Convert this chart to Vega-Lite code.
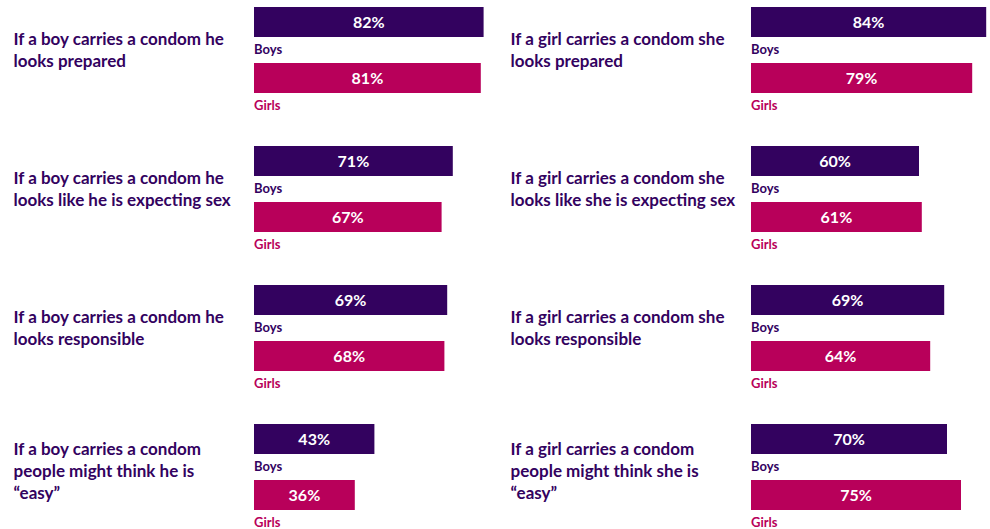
{
  "$schema": "https://vega.github.io/schema/vega-lite/v6.json",
  "padding": {"left": 13, "top": 7, "right": 0, "bottom": 0},
  "background": "white",
  "datasets": {
    "left": [
      {"statement": "If a boy carries a condom he|looks prepared", "gender": "Boys", "value": 82},
      {"statement": "If a boy carries a condom he|looks prepared", "gender": "Girls", "value": 81},
      {"statement": "If a boy carries a condom he|looks like he is expecting sex", "gender": "Boys", "value": 71},
      {"statement": "If a boy carries a condom he|looks like he is expecting sex", "gender": "Girls", "value": 67},
      {"statement": "If a boy carries a condom he|looks responsible", "gender": "Boys", "value": 69},
      {"statement": "If a boy carries a condom he|looks responsible", "gender": "Girls", "value": 68},
      {"statement": "If a boy carries a condom|people might think he is|“easy”", "gender": "Boys", "value": 43},
      {"statement": "If a boy carries a condom|people might think he is|“easy”", "gender": "Girls", "value": 36}
    ],
    "right": [
      {"statement": "If a girl carries a condom she|looks prepared", "gender": "Boys", "value": 84},
      {"statement": "If a girl carries a condom she|looks prepared", "gender": "Girls", "value": 79},
      {"statement": "If a girl carries a condom she|looks like she is expecting sex", "gender": "Boys", "value": 60},
      {"statement": "If a girl carries a condom she|looks like she is expecting sex", "gender": "Girls", "value": 61},
      {"statement": "If a girl carries a condom she|looks responsible", "gender": "Boys", "value": 69},
      {"statement": "If a girl carries a condom she|looks responsible", "gender": "Girls", "value": 64},
      {"statement": "If a girl carries a condom|people might think she is|“easy”", "gender": "Boys", "value": 70},
      {"statement": "If a girl carries a condom|people might think she is|“easy”", "gender": "Girls", "value": 75}
    ]
  },
  "spacing": 18,
  "hconcat": [
    {
      "data": {"name": "left"},
      "width": 238,
      "height": 503,
      "encoding": {
        "y": {"field": "statement", "type": "nominal", "sort": null, "title": null, "scale": {"type": "band", "paddingInner": 0.3813, "paddingOuter": 0}},
        "yOffset": {"field": "gender", "type": "nominal", "sort": ["Boys", "Girls"], "scale": {"type": "band", "paddingInner": 0.4643, "paddingOuter": 0}}
      },
      "layer": [
        {
          "mark": {"type": "bar"},
          "encoding": {
            "x": {"field": "value", "type": "quantitative", "scale": {"domain": [0, 85], "nice": false}, "axis": null},
            "color": {"field": "gender", "type": "nominal", "scale": {"domain": ["Boys", "Girls"], "range": ["#33025F", "#B8005A"]}, "legend": null}
          }
        },
        {
          "mark": {"type": "text", "align": "left", "baseline": "middle", "dy": 28, "font": "Lato", "fontWeight": "bold", "fontSize": 13},
          "encoding": {
            "x": {"datum": 0, "type": "quantitative", "scale": {"domain": [0, 85], "nice": false}, "axis": null},
            "text": {"field": "gender"},
            "color": {"field": "gender", "type": "nominal", "scale": {"domain": ["Boys", "Girls"], "range": ["#33025F", "#B8005A"]}, "legend": null}
          }
        },
        {
          "mark": {"type": "text", "align": "center", "baseline": "middle", "dy": 1, "font": "Lato", "fontWeight": "bold", "fontSize": 16, "color": "white", "text": {"expr": "datum.value + '%'"}},
          "encoding": {
            "x": {"field": "value", "type": "quantitative", "scale": {"domain": [0, 170], "nice": false}, "axis": null}
          }
        }
      ],
      "resolve": {"scale": {"x": "independent"}}
    },
    {
      "data": {"name": "right"},
      "width": 238,
      "height": 503,
      "encoding": {
        "y": {"field": "statement", "type": "nominal", "sort": null, "title": null, "scale": {"type": "band", "paddingInner": 0.3813, "paddingOuter": 0}},
        "yOffset": {"field": "gender", "type": "nominal", "sort": ["Boys", "Girls"], "scale": {"type": "band", "paddingInner": 0.4643, "paddingOuter": 0}}
      },
      "layer": [
        {
          "mark": {"type": "bar"},
          "encoding": {
            "x": {"field": "value", "type": "quantitative", "scale": {"domain": [0, 85], "nice": false}, "axis": null},
            "color": {"field": "gender", "type": "nominal", "scale": {"domain": ["Boys", "Girls"], "range": ["#33025F", "#B8005A"]}, "legend": null}
          }
        },
        {
          "mark": {"type": "text", "align": "left", "baseline": "middle", "dy": 28, "font": "Lato", "fontWeight": "bold", "fontSize": 13},
          "encoding": {
            "x": {"datum": 0, "type": "quantitative", "scale": {"domain": [0, 85], "nice": false}, "axis": null},
            "text": {"field": "gender"},
            "color": {"field": "gender", "type": "nominal", "scale": {"domain": ["Boys", "Girls"], "range": ["#33025F", "#B8005A"]}, "legend": null}
          }
        },
        {
          "mark": {"type": "text", "align": "center", "baseline": "middle", "dy": 1, "font": "Lato", "fontWeight": "bold", "fontSize": 16, "color": "white", "text": {"expr": "datum.value + '%'"}},
          "encoding": {
            "x": {"field": "value", "type": "quantitative", "scale": {"domain": [0, 170], "nice": false}, "axis": null}
          }
        }
      ],
      "resolve": {"scale": {"x": "independent"}}
    }
  ],
  "config": {
    "view": {"stroke": null},
    "axisY": {
      "domain": false,
      "ticks": false,
      "grid": false,
      "labelAlign": "left",
      "labelBaseline": "middle",
      "labelPadding": 241,
      "labelLimit": 0,
      "labelFont": "Lato",
      "labelFontWeight": "bold",
      "labelFontSize": 17,
      "labelColor": "#33025F",
      "labelLineHeight": 22,
      "labelOffset": {"condition": {"test": "indexof(datum.label, 'easy') >= 0", "value": -17}, "value": -10},
      "labelExpr": "split(datum.label, '|')"
    }
  }
}
